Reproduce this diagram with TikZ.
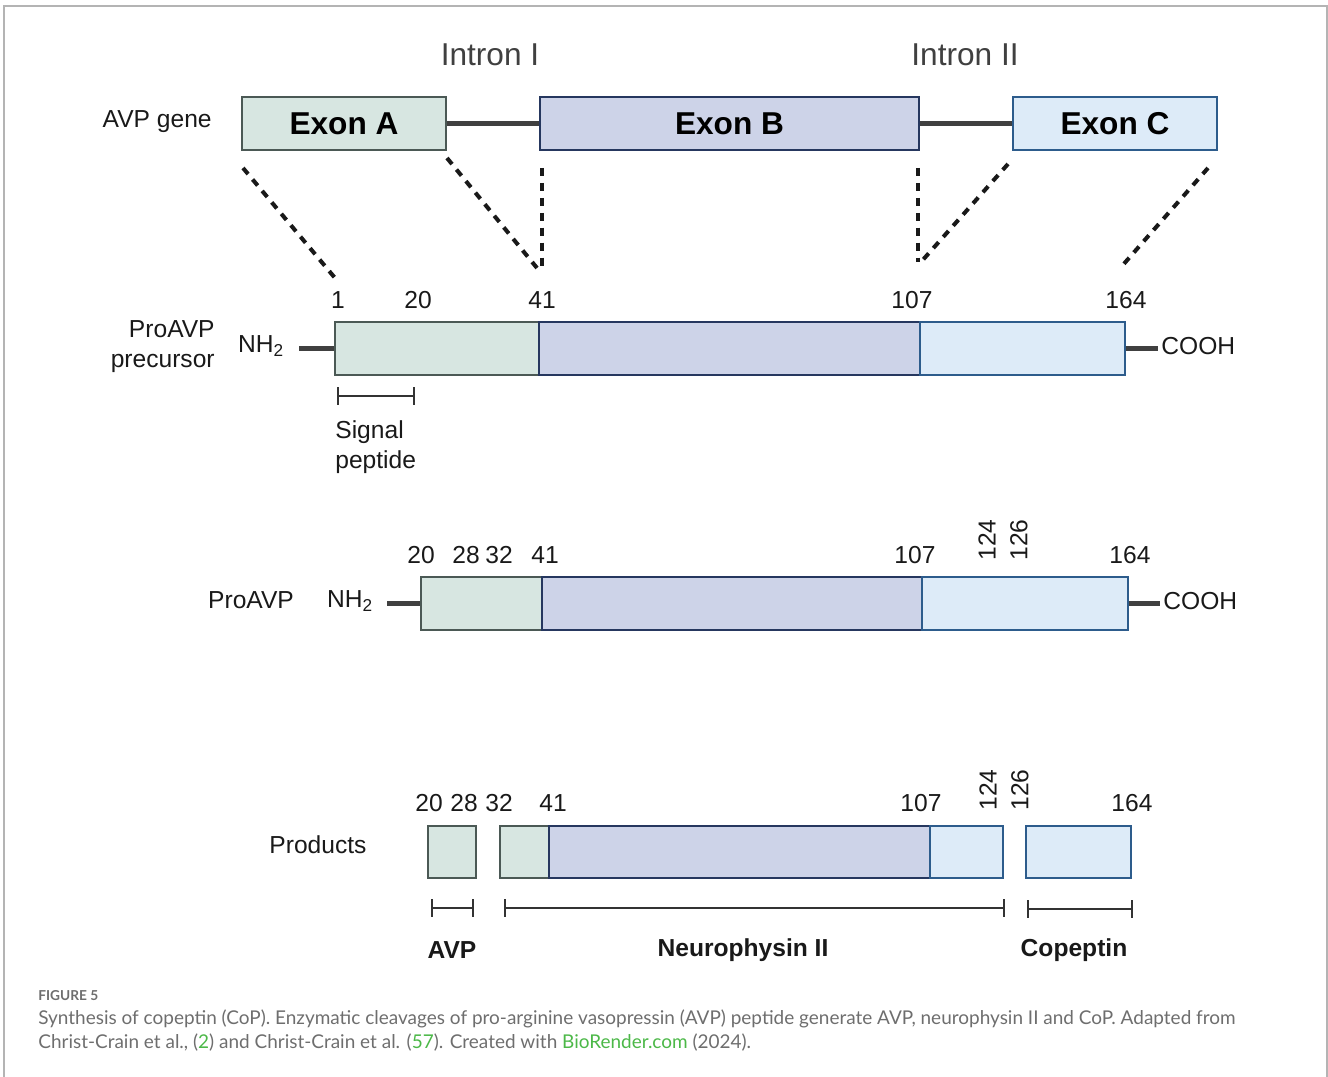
\documentclass[tikz,border=0pt]{standalone}
\usepackage{fontspec}
\setmainfont{Liberation Sans}
\newfontfamily\capfont{Lato}
\usetikzlibrary{arrows.meta}
\definecolor{exAfill}{HTML}{D7E6E1}
\definecolor{exAline}{HTML}{4B5955}
\definecolor{exBfill}{HTML}{CDD3E8}
\definecolor{exBline}{HTML}{26375F}
\definecolor{exCfill}{HTML}{DDEBF8}
\definecolor{exCline}{HTML}{2D5C8C}
\definecolor{introncol}{HTML}{404040}
\definecolor{capgray}{HTML}{6E6E6E}
\definecolor{biogreen}{HTML}{4CB848}
\definecolor{framegray}{HTML}{B4B4B4}
\begin{document}
\begin{tikzpicture}[x=0.02cm,y=-0.02cm,
    segA/.style={shape=rectangle,draw=exAline,fill=exAfill,line width=1.1pt,minimum height=1.06cm,inner sep=0pt},
    segB/.style={shape=rectangle,draw=exBline,fill=exBfill,line width=1.1pt,minimum height=1.06cm,inner sep=0pt},
    segC/.style={shape=rectangle,draw=exCline,fill=exCfill,line width=1.1pt,minimum height=1.06cm,inner sep=0pt},
    exlbl/.style={font=\fontsize{18}{20}\selectfont\bfseries},
    lbl/.style={font=\fontsize{14}{17}\selectfont,inner sep=0pt,text=black!90},
    blbl/.style={font=\fontsize{14}{17}\selectfont\bfseries,inner sep=0pt,text=black!90},
    intronlbl/.style={font=\fontsize{18}{20}\selectfont,inner sep=0pt,text=introncol},
    intronline/.style={draw=introncol,line width=3.4pt},
    tail/.style={draw=introncol,line width=3.4pt},
    cut/.style={draw=black!90,line width=2.3pt,dash pattern=on 4.5pt off 4pt},
    bracket/.style={draw=black!80,line width=1.1pt,{Bar[width=10pt,line width=1.1pt]}-{Bar[width=10pt,line width=1.1pt]}},
    captxt/.style={font=\capfont\fontsize{10.8}{13}\selectfont,text=capgray,inner sep=0pt,anchor=west}]
\useasboundingbox (0,0) rectangle (1328,1077);
\draw[framegray,line width=0.8pt] (4,1077) -- (4,6) -- (1327,6) -- (1327,1077);

% gene
\node[lbl,anchor=east] (gene) at (212,122) {AVP gene};
\node[intronlbl] (in1) at (490,55) {Intron I};
\node[intronlbl] (in2) at (965,55) {Intron II};
\node[segA,minimum width=4.08cm] (exA) at (344,123.5) {};
\node[segB,minimum width=7.58cm] (exB) at (729.5,123.5) {};
\node[segC,minimum width=4.08cm] (exC) at (1115,123.5) {};
\node[exlbl] at (exA) {Exon A};
\node[exlbl] at (exB) {Exon B};
\node[exlbl] at (exC) {Exon C};
\path (exA) edge[intronline] (exB);
\path (exB) edge[intronline] (exC);

\coordinate (gA1) at (243,168);
\coordinate (pA1) at (335,278);
\coordinate (gA2) at (447,158);
\coordinate (pA2) at (537,268);
\coordinate (gB1) at (542,168);
\coordinate (pB1) at (542,268);
\coordinate (gB2) at (918,168);
\coordinate (pB2) at (918,262);
\coordinate (gC1) at (1008,164);
\coordinate (pC1) at (921,262);
\coordinate (gC2) at (1208,168);
\coordinate (pC2) at (1122,266);
\path (gA1) edge[cut] (pA1);
\path (gA2) edge[cut] (pA2);
\path (gB1) edge[cut] (pB1);
\path (gB2) edge[cut] (pB2);
\path (gC1) edge[cut] (pC1);
\path (gC2) edge[cut] (pC2);

% precursor
\node[lbl,anchor=east,align=right] (prec) at (215,347) {ProAVP\\precursor};
\node[lbl] (nh1) at (261,346) {NH\textsubscript{2}};
\node[segA,minimum width=4.08cm] (p1) at (437,348.5) {};
\node[segB,minimum width=7.62cm] (p2) at (729.5,348.5) {};
\node[segC,minimum width=4.1cm] (p3) at (1022.5,348.5) {};
\coordinate (t1) at (299,348.5);
\coordinate (t2) at (1158,348.5);
\path (t1) edge[tail] (p1);
\path (p3) edge[tail] (t2);
\node[lbl,anchor=west] (co1) at (1161,346) {COOH};
\node[lbl] at (338,300) {1};
\node[lbl] at (418,300) {20};
\node[lbl] at (542,300) {41};
\node[lbl] at (912,300) {107};
\node[lbl] at (1126,300) {164};
\coordinate (sp1) at (337,396);
\coordinate (sp2) at (415,396);
\path (sp1) edge[bracket] (sp2);
\node[lbl,anchor=west,align=left] (sig) at (335,447) {Signal\\peptide};

% proAVP
\node[lbl] (pro) at (251,600) {ProAVP};
\node[lbl] (nh2) at (350,601) {NH\textsubscript{2}};
\node[segA,minimum width=2.42cm] (q1) at (481.5,603.5) {};
\node[segB,minimum width=7.6cm] (q2) at (732,603.5) {};
\node[segC,minimum width=4.12cm] (q3) at (1025,603.5) {};
\coordinate (t3) at (387,603.5);
\coordinate (t4) at (1160,603.5);
\path (t3) edge[tail] (q1);
\path (q3) edge[tail] (t4);
\node[lbl,anchor=west] (co2) at (1163,601) {COOH};
\node[lbl] at (421,555) {20};
\node[lbl] at (466,555) {28};
\node[lbl] at (499,555) {32};
\node[lbl] at (545,555) {41};
\node[lbl] at (915,555) {107};
\node[lbl] at (1130,555) {164};
\node[lbl,rotate=90] at (987,540) {124};
\node[lbl,rotate=90] at (1019,540) {126};

% products
\node[lbl] (prod) at (318,845) {Products};
\node[segA,minimum width=0.96cm,minimum height=1.04cm] (avp) at (452,852) {};
\node[segA,minimum width=0.98cm,minimum height=1.04cm] (r1) at (524.5,852) {};
\node[segB,minimum width=7.62cm,minimum height=1.04cm] (r2) at (739.5,852) {};
\node[segC,minimum width=1.46cm,minimum height=1.04cm] (r3) at (966.5,852) {};
\node[segC,minimum width=2.1cm,minimum height=1.04cm] (cop) at (1078.5,852) {};
\node[lbl] at (429,803) {20};
\node[lbl] at (464,803) {28};
\node[lbl] at (499,803) {32};
\node[lbl] at (553,803) {41};
\node[lbl] at (921,803) {107};
\node[lbl] at (1132,803) {164};
\node[lbl,rotate=90] at (988,790) {124};
\node[lbl,rotate=90] at (1020,790) {126};
\coordinate (b1) at (431,908);
\coordinate (b2) at (474,908);
\coordinate (b3) at (504,908);
\coordinate (b4) at (1005,908);
\coordinate (b5) at (1027,909);
\coordinate (b6) at (1133,909);
\path (b1) edge[bracket] (b2);
\path (b3) edge[bracket] (b4);
\path (b5) edge[bracket] (b6);
\node[blbl] at (452,950) {AVP};
\node[blbl] at (743,950) {Neurophysin II};
\node[blbl] at (1074,950) {Copeptin};

% caption
\node[captxt,font=\capfont\fontsize{7.8}{9}\selectfont\bfseries] at (38,996) {FIGURE 5};
\node[captxt] at (38,1019) {Synthesis of copeptin (CoP). Enzymatic cleavages of pro-arginine vasopressin (AVP) peptide generate AVP, neurophysin II and CoP. Adapted from};
\node[captxt] at (38,1043) {Christ-Crain et al., (\textcolor{biogreen}{2}) and Christ-Crain et al. (\textcolor{biogreen}{57}). Created with \textcolor{biogreen}{BioRender.com} (2024).};
\end{tikzpicture}
\end{document}
